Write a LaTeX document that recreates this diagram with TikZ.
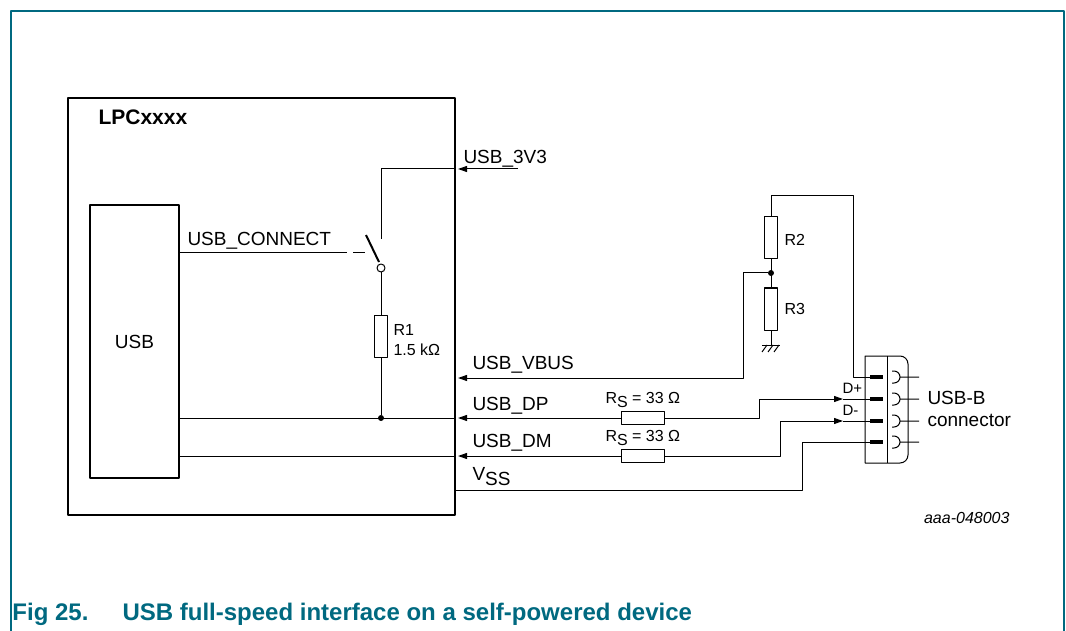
\documentclass[tikz,border=0pt]{standalone}
\usepackage{fontspec}
\setmainfont{Liberation Sans}
\usetikzlibrary{arrows.meta}
\definecolor{nxpteal}{RGB}{0,105,128}
\tikzset{
  res/.style={draw, fill=white, minimum width=13pt, minimum height=42pt, inner sep=0pt},
  rsh/.style={draw, fill=white, minimum width=43pt, minimum height=13pt, inner sep=0pt},
  pin/.style={fill=black, minimum width=13pt, minimum height=4pt, inner sep=0pt},
  jdot/.style={circle, fill=black, minimum size=6pt, inner sep=0pt},
  lbl/.style={anchor=base west, inner sep=0pt},
  sml/.style={lbl, font=\fontsize{16}{18}\selectfont},
}
\begin{document}
\begin{tikzpicture}[x=1pt, y=-1pt, line width=1pt, line join=round,
  >={Triangle[length=9pt,width=6pt]}, font=\fontsize{19}{22}\selectfont]
\useasboundingbox (0,0) rectangle (1066,631);
\def\bx{455} \def\tip{458} \def\ctip{843}
% frame and caption
\draw[nxpteal, line width=1.2pt] (11,631) -- (11,11) -- (1064,11) -- (1064,631);
\node[lbl, text=nxpteal, font=\fontsize{24}{27}\selectfont\bfseries] (cap) at (12,620)
  {Fig 25.\hspace{34pt}USB full-speed interface on a self-powered device};
% chip and USB block
\node[draw, line width=2pt, minimum width=387pt, minimum height=417pt, inner sep=0pt,
  anchor=north west] (lpc) at (67,97) {};
\node[lbl, font=\fontsize{21}{24}\selectfont\bfseries] (lpcname) at (98,125) {LPCxxxx};
\node[draw, line width=2pt, minimum width=89pt, minimum height=273pt, inner sep=0pt,
  anchor=north west] (usb) at (89,204) {USB};
% USB_3V3 and switch
\coordinate (v3in) at (518,169);
\draw[->] (v3in) -- (\tip,169);
\draw (\bx,169) -- (381,169) -- (381,239);
\draw[line width=2pt] (366,235) -- (379,262);
\node[circle, draw, fill=white, minimum size=8pt, inner sep=0pt] (sw) at (381,268) {};
\draw (usb.east |- 0,253) -- (347,253);
\draw (353,253) -- (365,253);
\node[res] (r1) at (381,336) {};
\node[jdot] (dpdot) at (381,418) {};
\draw (sw) -- (r1) -- (dpdot);
% series resistors and lines to the connector
\node[rsh] (rs1) at (643,418) {};
\node[rsh] (rs2) at (643,456) {};
\foreach \y [count=\i] in {377,399,421,442} {
  \node[pin] (p\i) at (876.5,\y) {};
  \draw (892,\y-6) -- (894,\y-6) arc(-90:90:6) -- (892,\y+6) (900,\y) -- (919,\y);
}
\draw (usb.east |- dpdot) -- (\bx,418);
\draw[->] (rs1) -- (\tip,418);
\draw[->] (rs1.east) -- (759,418) |- (\ctip,399);
\draw (\ctip,399) -- (p2);
\draw (usb.east |- rs2) -- (\bx,456);
\draw[->] (rs2) -- (\tip,456);
\draw[->] (rs2.east) -- (780,456) |- (\ctip,421);
\draw (\ctip,421) -- (p3);
\coordinate (vss) at (\bx,490);
\draw (vss) -- (802,490) |- (p4);
% VBUS divider
\node[res] (r2) at (771,238) {};
\node[res] (r3) at (771,309) {};
\node[jdot] (vdot) at (771,273) {};
\draw (r2) -- (r3);
\draw[->] (vdot) -- (743,273) |- (\tip,378);
\draw (r2.north) -- (771,196) -| (853,377) -- (p1);
\draw (r3.south) -- (771,345);
\draw (762,345) -- (780,345);
\foreach \x in {767,773,779} \draw (\x,345) -- (\x-5,352);
% connector body
\draw (865,463) -- (865,356) -- (900,356) arc(-90:0:8) -- (908,455) arc(0:90:8) -- cycle;
\draw (887,356) -- (887,463);
% labels
\node[lbl] at (463,164) {USB\_3V3};
\node[lbl] at (187,246) {USB\_CONNECT};
\node[lbl] at (472,369) {USB\_VBUS};
\node[lbl] at (472,410) {USB\_DP};
\node[lbl] at (472,447) {USB\_DM};
\node[lbl] at (472,480) {V\raisebox{-5pt}{SS}};
\node[sml] at (393,335) {R1};
\node[sml] at (393,355) {1.5 kΩ};
\node[sml] at (784,246) {R2};
\node[sml] at (784,314) {R3};
\node[sml] at (605,403) {R\raisebox{-4pt}{S} = 33 Ω};
\node[sml] at (605,441) {R\raisebox{-4pt}{S} = 33 Ω};
\node[lbl, font=\fontsize{15}{17}\selectfont] at (842,393) {D+};
\node[lbl, font=\fontsize{15}{17}\selectfont] at (842,415) {D-};
\node[lbl] at (927,404) {USB-B};
\node[lbl] at (927,426) {connector};
\node[anchor=base east, inner sep=0pt, font=\fontsize{16}{18}\selectfont\itshape] at (1010,523) {aaa-048003};
\end{tikzpicture}
\end{document}
